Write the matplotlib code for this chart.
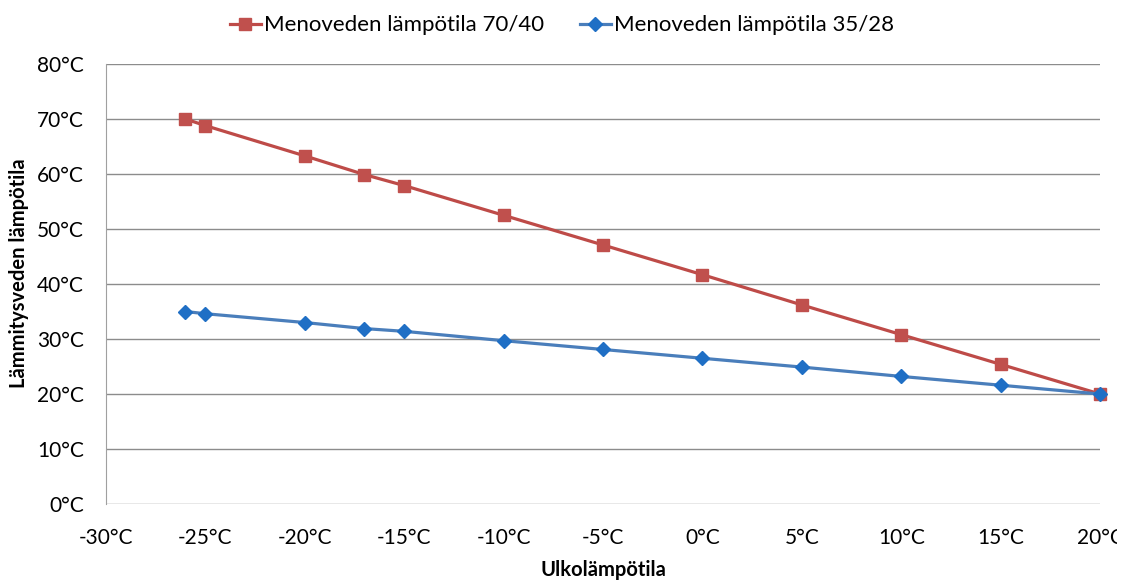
import numpy as np
import matplotlib.pyplot as plt
from matplotlib.ticker import FuncFormatter
from matplotlib.transforms import Bbox, TransformedBbox

plt.rcParams['font.family'] = ['Lato', 'DejaVu Sans']

ulko = [-26, -25, -20, -17, -15, -10, -5, 0, 5, 10, 15, 20]
meno_70_40 = [70, 68.8, 63.3, 59.9, 57.9, 52.5, 47.1, 41.7, 36.2, 30.8, 25.4, 20]
meno_35_28 = [35, 34.6, 33.0, 31.9, 31.4, 29.7, 28.1, 26.5, 24.9, 23.2, 21.6, 20]

fig = plt.figure(figsize=(11.31, 5.80), dpi=100)
ax = fig.add_axes([0.0937, 0.131, 0.8789, 0.7586])

ax.plot(ulko, meno_70_40, color='#BE4B48', lw=2.3, marker='s', ms=9,
        mfc='#C0504D', mec='#C0504D', label='Menoveden lämpötila 70/40', clip_on=False, zorder=3)
ax.plot(ulko, meno_35_28, color='#4A7EBB', lw=2.3, marker='D', ms=7,
        mfc='#1F6FC5', mec='#1F6FC5', label='Menoveden lämpötila 35/28', clip_on=False, zorder=4)

ax.set_xlim(-30, 20)
ax.set_ylim(0, 80)
ax.set_xticks(np.arange(-30, 21, 5))
ax.set_yticks(np.arange(0, 81, 10))
deg = FuncFormatter(lambda v, p: f'{int(v)}°C')
ax.xaxis.set_major_formatter(deg)
ax.yaxis.set_major_formatter(deg)
ax.tick_params(length=0, labelsize=15)
ax.tick_params(axis='y', pad=16)
ax.tick_params(axis='x', pad=17)

# viimeinen x-tikki leikkautuu oikeasta reunasta kuten alkuperäisessä
last = ax.xaxis.get_major_ticks()[-1].label1
last.set_clip_box(TransformedBbox(Bbox([[0, 0], [1117 / 1131, 1]]), fig.transFigure))
last.set_clip_on(True)

ax.grid(axis='y', color='#8C8C8C', lw=1)
ax.set_axisbelow(True)
for s in ['top', 'right', 'bottom']:
    ax.spines[s].set_visible(False)
ax.spines['left'].set_color('#A0A0A0')

ax.set_xlabel('Ulkolämpötila', fontsize=14.5, fontweight='bold', labelpad=9)
ax.set_ylabel('Lämmitysveden lämpötila', fontsize=14.5, fontweight='bold')
ax.yaxis.set_label_coords(-0.077, 0.525)

fig.legend(loc='upper center', bbox_to_anchor=(0.497, 1.008), ncol=2, frameon=False,
           fontsize=16, handlelength=1.4, handletextpad=0.15, columnspacing=1.6)

fig.savefig('out.png', dpi=100)
